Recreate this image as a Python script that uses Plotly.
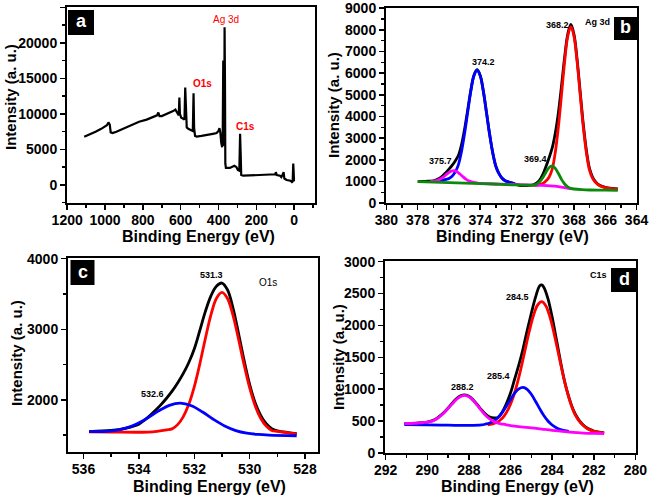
import plotly.graph_objects as go

W, H = 651, 496
def px(x): return x / W
def py(y): return 1 - y / H

FONT = "Liberation Sans"

# ---------------- panel a: survey ----------------
survey_be = [1110, 1080, 1050, 1020, 1000, 990, 982, 975, 970, 960,
             940, 900, 860, 820, 780, 740, 725, 718, 712, 700,
             680, 660, 640, 628, 620, 610, 607, 604, 598, 590,
             580, 576, 573, 568, 560, 545, 536, 532, 529, 524,
             515, 490, 460, 430, 410, 400, 395, 390, 386, 381,
             378, 375, 373, 370, 368, 366, 364, 361, 340, 330,
             316, 305, 298, 290, 286, 283, 280, 270, 220, 160,
             120, 100, 97, 92, 75, 68, 60, 56, 52, 40,
             20, 12, 8, 5, 3, 1]
survey_int = [6800, 7100, 7500, 7900, 8200, 8400, 8800, 8500, 7400, 7300,
              7500, 8000, 8500, 8900, 9200, 9600, 9800, 10200, 9700, 9700,
              9900, 10200, 10400, 10600, 10200, 9800, 12300, 10000, 9500, 9400,
              9200, 13700, 10000, 8100, 7900, 7700, 7600, 12900, 8000, 6900,
              6800, 6900, 7000, 7200, 7300, 7600, 8000, 7300, 6000, 5300,
              6500, 17500, 12000, 5500, 22200, 15000, 3000, 2400, 2400, 2500,
              2700, 2500, 2100, 2000, 7200, 4500, 1400, 1300, 1350, 1400,
              1450, 1500, 1800, 1400, 1300, 1100, 1500, 1800, 900, 700,
              600, 400, 500, 3000, 2000, 500]
a_xticks = [1200, 1000, 800, 600, 400, 200, 0]
a_yticks = [0, 5000, 10000, 15000, 20000, 25000]

# ---------------- panel b: Ag 3d ----------------
b_black_be = [378.0, 377.5, 377.0, 376.8, 376.6, 376.4, 376.2, 376.0, 375.8, 375.6,
              375.4, 375.2, 375.0, 374.8, 374.6, 374.4, 374.2, 374.0, 373.8, 373.6,
              373.4, 373.2, 373.0, 372.8, 372.6, 372.4, 372.2, 372.0, 371.7, 371.4,
              371.0, 370.6, 370.4, 370.2, 370.0, 369.8, 369.6, 369.4, 369.2, 369.0,
              368.8, 368.6, 368.4, 368.2, 368.0, 367.8, 367.6, 367.4, 367.2, 367.0,
              366.8, 366.6, 366.4, 366.2, 366.0, 365.6, 365.2]
b_black_int = [1000, 1010, 1035, 1080, 1154, 1264, 1409, 1572, 1746, 1948,
               2201, 2695, 3419, 4318, 5226, 5910, 6160, 5890, 5165, 4185,
               3182, 2326, 1703, 1362, 1150, 1040, 985, 945, 870, 815,
               815, 852, 924, 1061, 1317, 1681, 2089, 2540, 3231, 4180,
               5410, 6742, 7800, 8250, 7780, 6620, 5100, 3600, 2400, 1580,
               1185, 975, 848, 778, 730, 682, 656]
b_blue_be = [376.6, 376.2, 376.0, 375.8, 375.6, 375.4, 375.2, 375.0, 374.8, 374.6,
             374.4, 374.2, 374.0, 373.8, 373.6, 373.4, 373.2, 373.0, 372.8, 372.6,
             372.4, 372.2, 372.0, 371.8]
b_blue_int = [1010, 1096, 1142, 1241, 1443, 1771, 2382, 3226, 4216, 5180,
              5890, 6150, 5878, 5157, 4181, 3179, 2324, 1702, 1362, 1148,
              1038, 980, 943, 904]
b_red_be = [370.6, 370.2, 370.0, 369.8, 369.6, 369.4, 369.2, 369.0, 368.8, 368.6,
            368.4, 368.2, 368.0, 367.8, 367.6, 367.4, 367.2, 367.0, 366.8, 366.6,
            366.4, 366.2, 366.0, 365.6, 365.2]
b_red_int = [825, 859, 914, 1020, 1201, 1560, 2343, 3519, 5007, 6540,
             7709, 8150, 7699, 6521, 4978, 3481, 2295, 1503, 1134, 943,
             827, 763, 719, 675, 650]
b_mag_be = [377.2, 376.9, 376.7, 376.5, 376.3, 376.1, 375.9, 375.7, 375.5, 375.3,
            375.1, 374.9, 374.7, 374.5, 374.2, 374.0, 373.0, 372.0, 371.0, 370.0,
            369.5, 369.0, 368.6, 368.2]
b_mag_int = [1012, 1034, 1070, 1138, 1243, 1363, 1460, 1500, 1453, 1347,
             1217, 1101, 1020, 969, 933, 915, 890, 865, 842, 820,
             800, 765, 720, 665]
b_grn_be = [378.0, 377.0, 376.0, 375.0, 374.0, 373.0, 372.0, 371.0, 370.6, 370.4,
            370.2, 370.0, 369.8, 369.6, 369.4, 369.2, 369.0, 368.8, 368.6, 368.4,
            368.2, 368.0, 367.5, 367.0, 366.0, 365.2]
b_grn_int = [1000, 975, 950, 925, 900, 875, 850, 830, 837, 880,
             987, 1175, 1421, 1635, 1720, 1610, 1371, 1100, 887, 755,
             687, 655, 625, 610, 600, 595]
b_xticks = [380, 378, 376, 374, 372, 370, 368, 366, 364]
b_yticks = [0, 1000, 2000, 3000, 4000, 5000, 6000, 7000, 8000, 9000]

# ---------------- panel c: O1s ----------------
c_black_be = [535.8, 535.0, 534.5, 534.0, 533.8, 533.6, 533.4, 533.2, 533.0, 532.8,
              532.6, 532.4, 532.2, 532.0, 531.8, 531.6, 531.4, 531.2, 531.0, 530.8,
              530.6, 530.4, 530.2, 530.0, 529.8, 529.6, 529.4, 529.2, 529.0, 528.6,
              528.3]
c_black_int = [1550, 1565, 1595, 1655, 1712, 1778, 1852, 1932, 2022, 2122,
               2238, 2370, 2525, 2720, 2980, 3250, 3470, 3610, 3655, 3560,
               3300, 2940, 2560, 2220, 1960, 1780, 1660, 1590, 1560, 1535,
               1520]
c_red_be = [535.8, 535.0, 534.0, 533.5, 533.0, 532.8, 532.6, 532.4, 532.2, 532.0,
            531.8, 531.6, 531.4, 531.2, 531.0, 530.8, 530.6, 530.4, 530.2, 530.0,
            529.8, 529.6, 529.4, 529.2, 529.0, 528.6, 528.3]
c_red_int = [1545, 1543, 1540, 1545, 1575, 1588, 1648, 1758, 1932, 2183,
             2506, 2866, 3199, 3437, 3522, 3435, 3195, 2859, 2497, 2171,
             1916, 1739, 1628, 1566, 1552, 1532, 1518]
c_blue_be = [535.8, 535.3, 534.9, 534.5, 534.1, 533.7, 533.3, 532.9, 532.5, 532.1,
             531.7, 531.3, 530.9, 530.5, 530.1, 529.7, 529.3, 528.3]
c_blue_int = [1550, 1550, 1562, 1594, 1653, 1739, 1839, 1921, 1953, 1915,
              1827, 1721, 1629, 1564, 1527, 1509, 1500, 1490]
c_xticks = [536, 534, 532, 530, 528]
c_yticks = [2000, 3000, 4000]

# ---------------- panel d: C1s ----------------
d_black_be = [291.1, 290.5, 290.0, 289.6, 289.4, 289.2, 289.0, 288.8, 288.6, 288.4,
              288.2, 288.0, 287.8, 287.6, 287.4, 287.2, 287.0, 286.8, 286.6, 286.4,
              286.2, 286.0, 285.8, 285.6, 285.4, 285.2, 285.0, 284.8, 284.6, 284.5,
              284.4, 284.2, 284.0, 283.8, 283.6, 283.4, 283.2, 283.0, 282.8, 282.6,
              282.4, 282.2, 282.0, 281.5]
d_black_int = [460, 468, 485, 530, 578, 635, 705, 780, 850, 895,
               910, 890, 835, 760, 680, 610, 565, 550, 555, 640,
               770, 940, 1160, 1380, 1630, 1920, 2190, 2440, 2620, 2635,
               2600, 2420, 2130, 1790, 1440, 1120, 880, 690, 560, 470,
               410, 370, 345, 315]
d_red_be = [287.1, 286.9, 286.7, 286.5, 286.3, 286.1, 285.9, 285.7, 285.5, 285.3,
            285.1, 284.9, 284.7, 284.5, 284.3, 284.1, 283.9, 283.7, 283.5, 283.3,
            283.1, 282.9, 282.7, 282.5, 282.3, 282.1, 281.9, 281.5]
d_red_int = [440, 451, 473, 513, 582, 690, 848, 1061, 1321, 1614,
             1904, 2151, 2318, 2373, 2306, 2125, 1864, 1563, 1260, 990,
             767, 600, 500, 430, 380, 350, 330, 312]
d_blue_be = [291.1, 290.0, 289.0, 288.0, 287.4, 287.2, 287.0, 286.8, 286.6, 286.4,
             286.2, 286.0, 285.8, 285.6, 285.4, 285.2, 285.0, 284.8, 284.6, 284.4,
             284.2, 284.0, 283.8, 283.6, 283.4, 283.2]
d_blue_int = [445, 440, 436, 432, 440, 453, 471, 504, 557, 634,
              732, 839, 937, 1005, 1028, 999, 920, 812, 696, 588,
              502, 439, 396, 368, 350, 339]
d_mag_be = [291.1, 290.6, 290.4, 290.2, 290.0, 289.8, 289.6, 289.4, 289.2, 289.0,
            288.8, 288.6, 288.4, 288.2, 288.0, 287.8, 287.6, 287.4, 287.2, 287.0,
            286.8, 286.6, 286.4, 286.2, 286.0, 285.5, 285.0, 284.5, 284.0, 283.5,
            283.0, 282.5, 282.0, 281.5]
d_mag_int = [462, 466, 471, 477, 484, 495, 525, 572, 628, 698,
             770, 838, 885, 902, 882, 826, 750, 668, 592, 534,
             492, 467, 454, 441, 430, 408, 395, 375, 355, 338,
             322, 312, 306, 303]
d_xticks = [292, 290, 288, 286, 284, 282, 280]
d_yticks = [0, 500, 1000, 1500, 2000, 2500, 3000]

BLACK, RED, BLUE, MAG, GRN = "#000000", "#ff0000", "#0000ff", "#ff00ff", "#0a8a0a"

fig = go.Figure()

def line(x, y, color, xa, ya, width=2.8, shape="spline"):
    fig.add_trace(go.Scatter(x=x, y=y, mode="lines", xaxis=xa, yaxis=ya,
                             line=dict(color=color, width=width, shape=shape),
                             showlegend=False, hoverinfo="skip"))

line(survey_be, survey_int, BLACK, "x", "y", width=2.2, shape="linear")

line(b_black_be, b_black_int, BLACK, "x2", "y2")
line(b_blue_be, b_blue_int, BLUE, "x2", "y2")
line(b_red_be, b_red_int, RED, "x2", "y2")
line(b_mag_be, b_mag_int, MAG, "x2", "y2")
line(b_grn_be, b_grn_int, GRN, "x2", "y2")

line(c_black_be, c_black_int, BLACK, "x3", "y3")
line(c_red_be, c_red_int, RED, "x3", "y3")
line(c_blue_be, c_blue_int, BLUE, "x3", "y3")

line(d_black_be, d_black_int, BLACK, "x4", "y4")
line(d_red_be, d_red_int, RED, "x4", "y4")
line(d_blue_be, d_blue_int, BLUE, "x4", "y4")
line(d_mag_be, d_mag_int, MAG, "x4", "y4")

def axis(domain, rng, ticks, minor, anchor, standoff=0):
    return dict(domain=domain, range=rng, anchor=anchor,
                tickmode="array", tickvals=ticks,
                ticktext=["<b>%d</b>" % t for t in ticks],
                showline=True, linecolor="black", linewidth=2, mirror=True,
                ticks="outside", ticklen=5, tickwidth=1.5, tickcolor="black",
                ticklabelstandoff=standoff,
                minor=dict(dtick=minor, tick0=0, ticks="outside", ticklen=3,
                           tickwidth=1.5, tickcolor="black", showgrid=False),
                showgrid=False, zeroline=False, autorange=False, automargin=False,
                fixedrange=True,
                tickfont=dict(family=FONT, size=14, color="black"))

fig.update_layout(
    template="none",
    width=W, height=H, margin=dict(l=0, r=0, t=0, b=0, pad=0),
    paper_bgcolor="white", plot_bgcolor="white", showlegend=False,
    xaxis=axis([px(67), px(315)], [1201, -110], a_xticks, 100, "y", -2),
    yaxis=axis([py(202.7), py(7)], [-2500, 25050], a_yticks, 2500, "x"),
    xaxis2=axis([px(386), px(637)], [380.03, 363.97], b_xticks, 1, "y2", -2),
    yaxis2=axis([py(203.3), py(8)], [-5, 9010], b_yticks, 500, "x2"),
    xaxis3=axis([px(68), px(318)], [536.56, 527.53], c_xticks, 1, "y3", -2),
    yaxis3=axis([py(452), py(258)], [1260, 4010], c_yticks, 500, "x3"),
    xaxis4=axis([px(385), px(636)], [292.03, 279.97], d_xticks, 1, "y4", -2),
    yaxis4=axis([py(453.3), py(261)], [-5, 3010], d_yticks, 250, "x4"),
)

ann = []
def text(t, x, y, size=9, color="black", bold=True, angle=0):
    ann.append(dict(text="<b>%s</b>" % t if bold else t, x=px(x), y=py(y),
                    xref="paper", yref="paper",
                    xanchor="center", yanchor="middle", showarrow=False, textangle=angle,
                    font=dict(family=FONT, size=size, color=color)))

# axis titles
for (xc, yc) in [(198, 236), (512, 236), (209, 486), (517, 486)]:
    text("Binding Energy (eV)", xc, yc, size=16)
for (xc, yc) in [(10, 97), (334, 105), (16, 353), (338, 357)]:
    text("Intensity (a. u.)", xc, yc, size=15, angle=-90)

# panel a labels
text("Ag 3d", 226, 19, size=10, color=RED, bold=False)
text("O1s", 202, 83, size=10, color=RED)
text("C1s", 246, 126, size=10, color=RED)
# panel b labels
text("374.2", 483, 62)
text("375.7", 440, 161)
text("369.4", 535, 159)
text("368.2", 557, 25)
text("Ag 3d", 597, 22)
# panel c labels
text("531.3", 211, 275)
text("532.6", 152, 394)
text("O1s", 268, 282, size=10, bold=False)
# panel d labels
text("284.5", 517, 297)
text("285.4", 498, 376)
text("288.2", 463, 387)
text("C1s", 598, 275)

# panel letter boxes
shapes = []
for (t, x0, y0, x1, y1) in [("a", 68, 10, 94, 35), ("b", 614, 17, 637, 40),
                            ("c", 70.5, 260, 94.5, 285), ("d", 611, 268, 637, 292)]:
    shapes.append(dict(type="rect", xref="paper", yref="paper",
                       x0=px(x0), x1=px(x1), y0=py(y1), y1=py(y0),
                       fillcolor="black", line=dict(width=0)))
    text(t, (x0 + x1) / 2, (y0 + y1) / 2 - 1, size=18, color="white")

fig.update_layout(annotations=ann, shapes=shapes)
fig.write_html("out.html", config={"displayModeBar": False, "staticPlot": True},
               post_script="document.body.style.margin='0px';"
                           "document.body.style.overflow='hidden';")
